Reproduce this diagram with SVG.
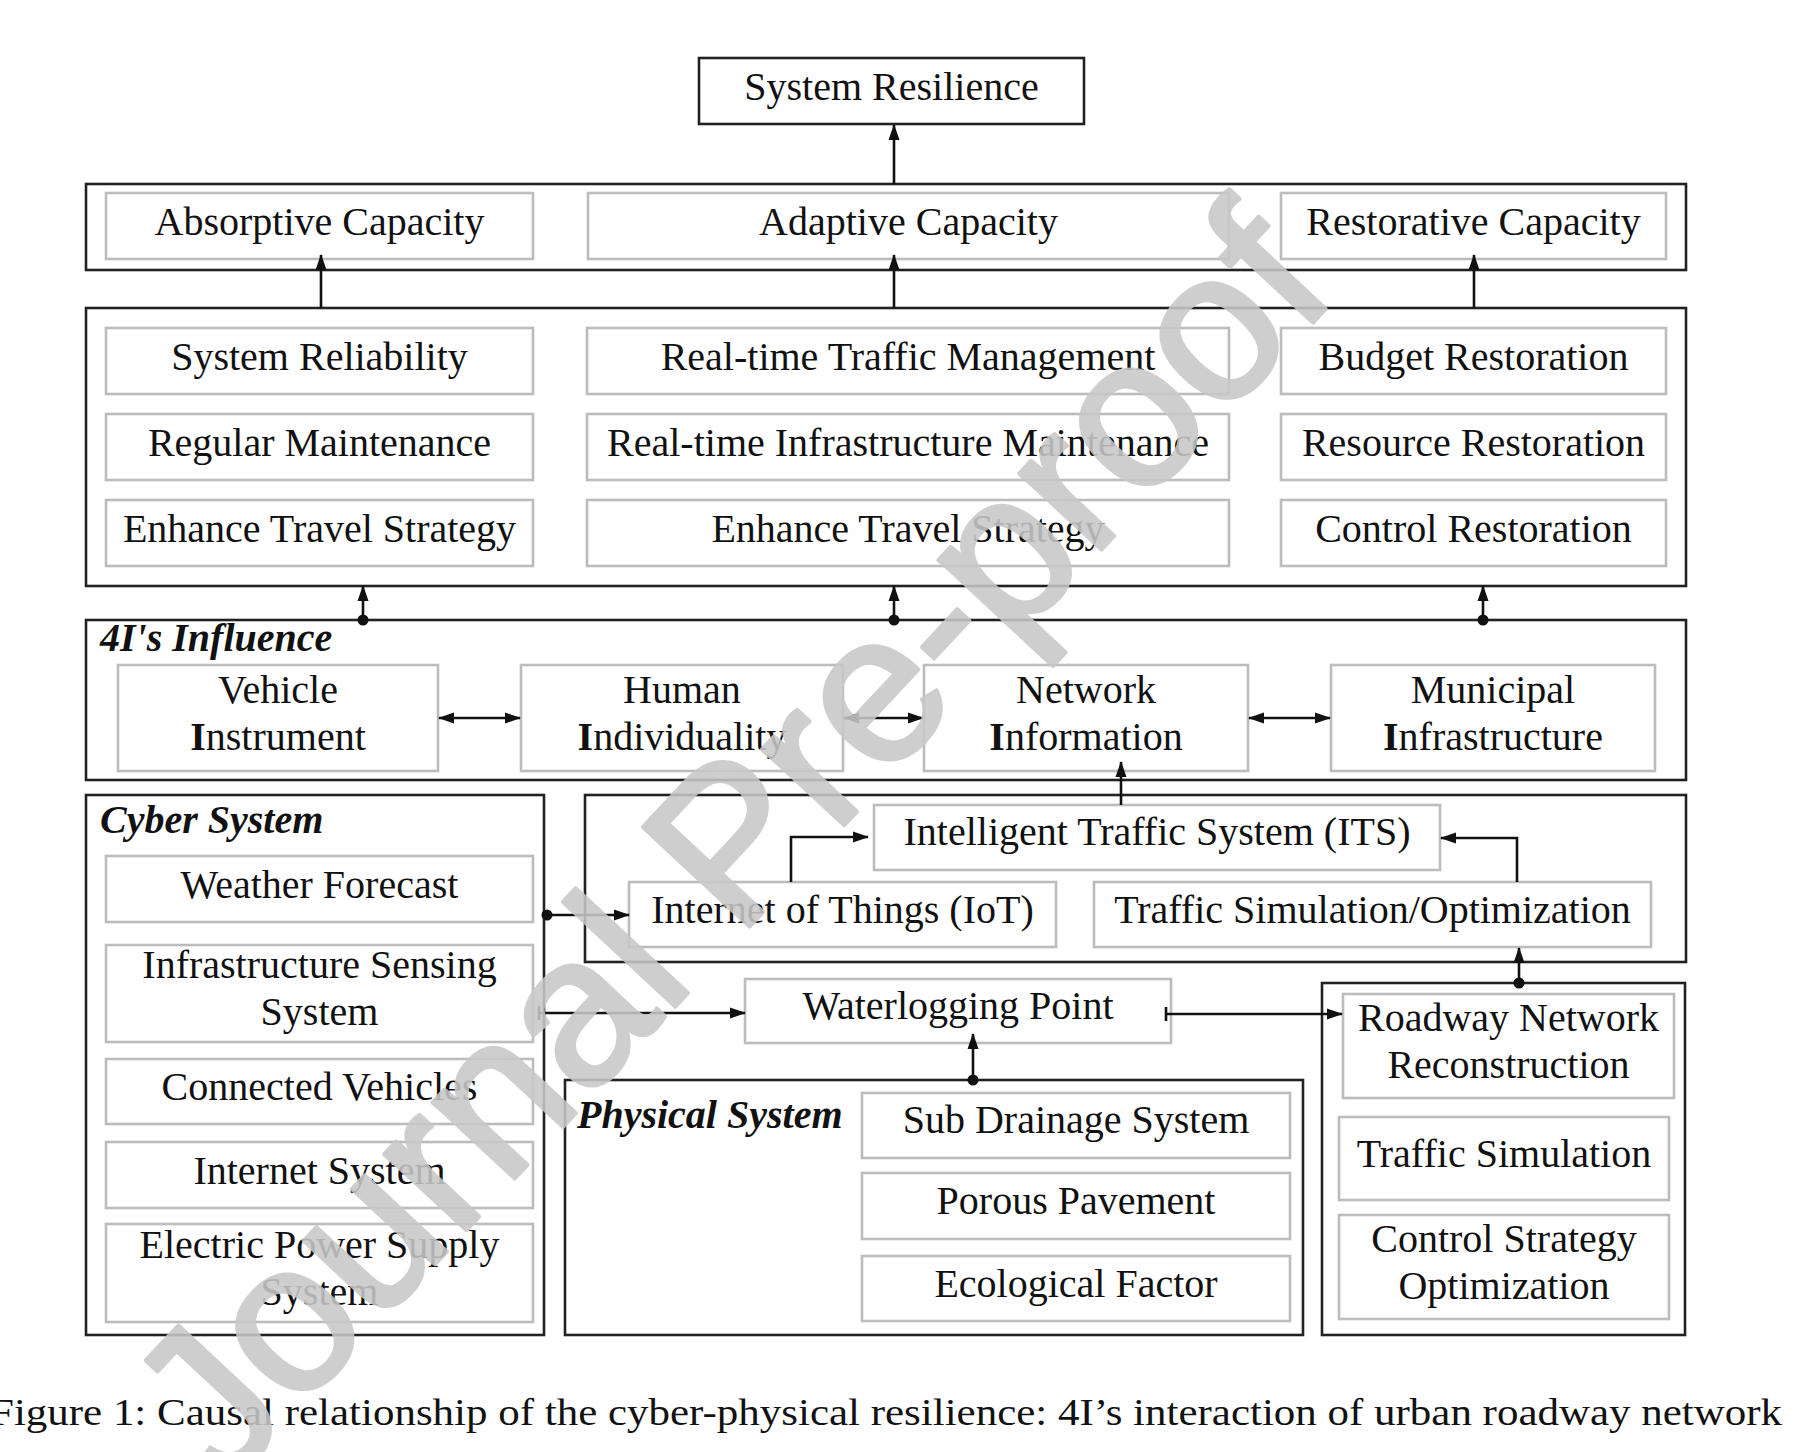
<svg xmlns="http://www.w3.org/2000/svg" width="1797" height="1452" viewBox="0 0 1797 1452">
<style>
.bg{fill:#fff}
.outer{fill:none;stroke:#222;stroke-width:2.6}
.inner{fill:none;stroke:#bcbcbc;stroke-width:2.6}
.t{font-family:"Liberation Serif","Times New Roman",serif;font-size:40px;fill:#111;text-anchor:middle}
.lbl{font-family:"Liberation Serif","Times New Roman",serif;font-size:40px;fill:#111;font-weight:bold;font-style:italic}
.c{fill:none;stroke:#111;stroke-width:2.6}
.dot{fill:#111}
.cap{font-family:"Liberation Serif","Times New Roman",serif;font-size:37px;fill:#111}
.wm{font-family:"Liberation Sans",Arial,sans-serif;font-size:212px;fill:#c8c8c8;stroke:#c8c8c8;stroke-width:4;stroke-linejoin:round;text-anchor:middle}
</style>
<defs>
<marker id="ah" markerUnits="userSpaceOnUse" markerWidth="16" markerHeight="12" refX="15" refY="6" orient="auto-start-reverse" viewBox="0 0 16 12">
<path d="M0,0.5 L16,6 L0,11.5 Z" fill="#111"/>
</marker>
</defs>
<rect class="bg" x="0" y="0" width="1797" height="1452"/>

<g id="system-resilience">
<rect class="outer" x="699" y="58" width="385" height="66"/>
<text class="t" x="891.5" y="100">System Resilience</text>
</g>

<g id="capacity-group">
<rect class="outer" x="86" y="184" width="1600" height="86"/>
<g id="absorptive"><rect class="inner" x="106" y="193" width="427" height="66"/><text class="t" x="319.5" y="235">Absorptive Capacity</text></g>
<g id="adaptive"><rect class="inner" x="588" y="193" width="641" height="66"/><text class="t" x="908.5" y="235">Adaptive Capacity</text></g>
<g id="restorative"><rect class="inner" x="1281" y="193" width="385" height="66"/><text class="t" x="1473.5" y="235">Restorative Capacity</text></g>
</g>

<g id="strategy-group">
<rect class="outer" x="86" y="308" width="1600" height="278"/>
<g id="system-reliability"><rect class="inner" x="106" y="328" width="427" height="66"/><text class="t" x="319.5" y="370">System Reliability</text></g>
<g id="regular-maintenance"><rect class="inner" x="106" y="414" width="427" height="66"/><text class="t" x="319.5" y="456">Regular Maintenance</text></g>
<g id="enhance-travel-1"><rect class="inner" x="106" y="500" width="427" height="66"/><text class="t" x="319.5" y="542">Enhance Travel Strategy</text></g>
<g id="rt-traffic"><rect class="inner" x="587" y="328" width="642" height="66"/><text class="t" x="908" y="370">Real-time Traffic Management</text></g>
<g id="rt-infra"><rect class="inner" x="587" y="414" width="642" height="66"/><text class="t" x="908" y="456">Real-time Infrastructure Maintenance</text></g>
<g id="enhance-travel-2"><rect class="inner" x="587" y="500" width="642" height="66"/><text class="t" x="908" y="542">Enhance Travel Strategy</text></g>
<g id="budget"><rect class="inner" x="1281" y="328" width="385" height="66"/><text class="t" x="1473.5" y="370">Budget Restoration</text></g>
<g id="resource"><rect class="inner" x="1281" y="414" width="385" height="66"/><text class="t" x="1473.5" y="456">Resource Restoration</text></g>
<g id="control-restoration"><rect class="inner" x="1281" y="500" width="385" height="66"/><text class="t" x="1473.5" y="542">Control Restoration</text></g>
</g>

<g id="influence-group">
<rect class="outer" x="86" y="620" width="1600" height="160"/>
<text class="lbl" x="100" y="651">4I's Influence</text>
<g id="vehicle"><rect class="inner" x="118" y="665" width="320" height="106"/><text class="t" x="278" y="703">Vehicle</text><text class="t" x="278" y="750"><tspan font-weight="bold">I</tspan>nstrument</text></g>
<g id="human"><rect class="inner" x="521" y="665" width="322" height="106"/><text class="t" x="682" y="703">Human</text><text class="t" x="682" y="750"><tspan font-weight="bold">I</tspan>ndividuality</text></g>
<g id="network"><rect class="inner" x="924" y="665" width="324" height="106"/><text class="t" x="1086" y="703">Network</text><text class="t" x="1086" y="750"><tspan font-weight="bold">I</tspan>nformation</text></g>
<g id="municipal"><rect class="inner" x="1331" y="665" width="324" height="106"/><text class="t" x="1493" y="703">Municipal</text><text class="t" x="1493" y="750"><tspan font-weight="bold">I</tspan>nfrastructure</text></g>
</g>

<g id="cyber-system">
<rect class="outer" x="86" y="795" width="458" height="540"/>
<text class="lbl" x="100" y="833">Cyber System</text>
<g id="weather"><rect class="inner" x="106" y="856" width="427" height="66"/><text class="t" x="319.5" y="898">Weather Forecast</text></g>
<g id="infra-sensing"><rect class="inner" x="106" y="945" width="427" height="97"/><text class="t" x="319.5" y="978">Infrastructure Sensing</text><text class="t" x="319.5" y="1025">System</text></g>
<g id="connected"><rect class="inner" x="106" y="1059" width="427" height="65"/><text class="t" x="319.5" y="1100">Connected Vehicles</text></g>
<g id="internet"><rect class="inner" x="106" y="1142" width="427" height="66"/><text class="t" x="319.5" y="1184">Internet System</text></g>
<g id="electric"><rect class="inner" x="106" y="1224" width="427" height="98"/><text class="t" x="319.5" y="1258">Electric Power Supply</text><text class="t" x="319.5" y="1305">System</text></g>
</g>

<g id="its-group">
<rect class="outer" x="585" y="795" width="1101" height="167"/>
<g id="its"><rect class="inner" x="874" y="805" width="566" height="65"/><text class="t" x="1157" y="845">Intelligent Traffic System (ITS)</text></g>
<g id="iot"><rect class="inner" x="629" y="882" width="427" height="65"/><text class="t" x="842.5" y="923">Internet of Things (IoT)</text></g>
<g id="tso"><rect class="inner" x="1094" y="882" width="557" height="65"/><text class="t" x="1372.5" y="923">Traffic Simulation/Optimization</text></g>
</g>

<g id="waterlogging">
<rect class="inner" x="745" y="979" width="426" height="64"/>
<text class="t" x="958" y="1019">Waterlogging Point</text>
</g>

<g id="physical-system">
<rect class="outer" x="565" y="1080" width="738" height="255"/>
<text class="lbl" x="577" y="1128">Physical System</text>
<g id="sub-drainage"><rect class="inner" x="862" y="1093" width="428" height="65"/><text class="t" x="1076" y="1133">Sub Drainage System</text></g>
<g id="porous"><rect class="inner" x="862" y="1173" width="428" height="66"/><text class="t" x="1076" y="1214">Porous Pavement</text></g>
<g id="ecological"><rect class="inner" x="862" y="1256" width="428" height="65"/><text class="t" x="1076" y="1297">Ecological Factor</text></g>
</g>

<g id="roadway-group">
<rect class="outer" x="1322" y="983" width="363" height="352"/>
<g id="rnr"><rect class="inner" x="1343" y="994" width="331" height="104"/><text class="t" x="1508.5" y="1031">Roadway Network</text><text class="t" x="1508.5" y="1078">Reconstruction</text></g>
<g id="traffic-sim"><rect class="inner" x="1339" y="1117" width="330" height="83"/><text class="t" x="1504" y="1167">Traffic Simulation</text></g>
<g id="cso"><rect class="inner" x="1339" y="1215" width="330" height="104"/><text class="t" x="1504" y="1252">Control Strategy</text><text class="t" x="1504" y="1299">Optimization</text></g>
</g>

<g id="connectors">
<line class="c" x1="894" y1="184" x2="894" y2="125" marker-end="url(#ah)"/>
<line class="c" x1="321" y1="308" x2="321" y2="255" marker-end="url(#ah)"/>
<line class="c" x1="894" y1="308" x2="894" y2="255" marker-end="url(#ah)"/>
<line class="c" x1="1474" y1="308" x2="1474" y2="255" marker-end="url(#ah)"/>
<line class="c" x1="363" y1="620" x2="363" y2="586" marker-end="url(#ah)"/>
<circle class="dot" cx="363" cy="620" r="5.5"/>
<line class="c" x1="894" y1="620" x2="894" y2="586" marker-end="url(#ah)"/>
<circle class="dot" cx="894" cy="620" r="5.5"/>
<line class="c" x1="1483" y1="620" x2="1483" y2="586" marker-end="url(#ah)"/>
<circle class="dot" cx="1483" cy="620" r="5.5"/>
<line class="c" x1="439" y1="718" x2="520" y2="718" marker-start="url(#ah)" marker-end="url(#ah)"/>
<line class="c" x1="844" y1="718" x2="923" y2="718" marker-start="url(#ah)" marker-end="url(#ah)"/>
<line class="c" x1="1249" y1="718" x2="1330" y2="718" marker-start="url(#ah)" marker-end="url(#ah)"/>
<line class="c" x1="1121" y1="805" x2="1121" y2="762" marker-end="url(#ah)"/>
<polyline class="c" points="791,882 791,837 868,837" marker-end="url(#ah)"/>
<polyline class="c" points="1517,882 1517,838 1441,838" marker-end="url(#ah)"/>
<line class="c" x1="547" y1="915" x2="629" y2="915" marker-end="url(#ah)"/>
<circle class="dot" cx="547" cy="915" r="5.5"/>
<line class="c" x1="539" y1="1013" x2="745" y2="1013" marker-end="url(#ah)"/>
<line class="c" x1="539" y1="1006" x2="539" y2="1020"/>
<line class="c" x1="1166" y1="1014" x2="1342" y2="1014" marker-end="url(#ah)"/>
<line class="c" x1="1166" y1="1007" x2="1166" y2="1021"/>
<line class="c" x1="973" y1="1080" x2="973" y2="1034" marker-end="url(#ah)"/>
<circle class="dot" cx="973" cy="1080" r="5.5"/>
<line class="c" x1="1519" y1="983" x2="1519" y2="948" marker-end="url(#ah)"/>
<circle class="dot" cx="1519" cy="983" r="5.5"/>
</g>

<text class="cap" x="-10" y="1425" textLength="1792" lengthAdjust="spacingAndGlyphs">Figure 1: Causal relationship of the cyber-physical resilience: 4I’s interaction of urban roadway network</text>

<text class="wm" transform="translate(782,892) rotate(-47)" x="0" y="0" opacity="0.88">Journal Pre-proof</text>
</svg>
